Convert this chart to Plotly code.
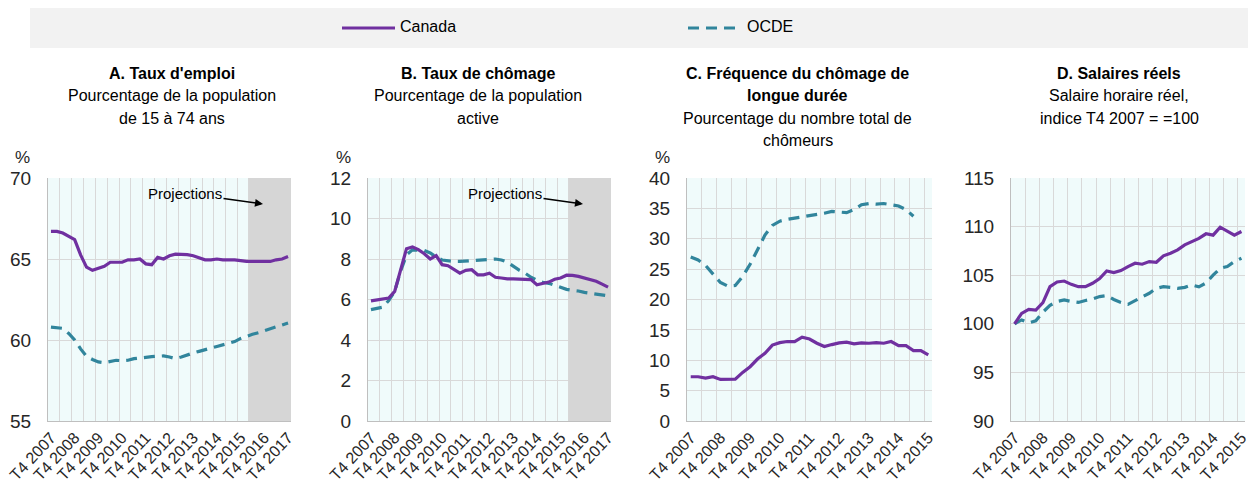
import plotly.graph_objects as go

W, H = 1248, 479

def quarters(y0, y1):
    q = ["T4 %d" % y0]
    for y in range(y0 + 1, y1 + 1):
        q += ["T%d %d" % (k, y) for k in (1, 2, 3, 4)]
    return q

# ---------------- data ----------------
quarters_A = quarters(2007, 2017)   # 41 quarters (panels A, B)
quarters_C = quarters(2007, 2015)   # 33 quarters (panels C, D)

canada_A = [66.7, 66.7, 66.6, 66.4, 66.2, 65.25, 64.5, 64.3, 64.4, 64.55,
            64.8, 64.8, 64.8, 64.95, 64.95, 65.0, 64.7, 64.65, 65.1, 65.0,
            65.2, 65.3, 65.3, 65.27, 65.2, 65.1, 64.95, 64.95, 65.0, 64.95,
            64.95, 64.95, 64.9, 64.85, 64.85, 64.85, 64.85, 64.85, 64.95, 65.0,
            65.15]
oecd_A = [60.8, 60.75, 60.72, 60.4, 60.0, 59.45, 59.0, 58.8, 58.65, 58.6,
          58.7, 58.75, 58.72, 58.75, 58.85, 58.9, 58.95, 58.97, 59.0, 59.02,
          58.95, 58.85, 58.95, 59.1, 59.2, 59.3, 59.38, 59.5, 59.6, 59.7,
          59.78, 59.9, 60.1, 60.25, 60.35, 60.45, 60.58, 60.7, 60.82, 60.94,
          61.05]

canada_B = [5.93, 5.98, 6.03, 6.07, 6.4, 7.47, 8.51, 8.6, 8.46, 8.26,
            8.0, 8.17, 7.72, 7.67, 7.5, 7.3, 7.44, 7.47, 7.22, 7.22,
            7.3, 7.1, 7.06, 7.02, 7.02, 7.0, 7.0, 6.98, 6.73, 6.81,
            6.86, 7.0, 7.06, 7.2, 7.19, 7.14, 7.06, 7.0, 6.9, 6.76,
            6.61]
oecd_B = [5.5, 5.55, 5.62, 5.95, 6.4, 7.4, 8.2, 8.45, 8.45, 8.42,
          8.3, 8.1, 7.95, 7.9, 7.88, 7.88, 7.9, 7.92, 7.95, 7.98,
          8.0, 8.0, 7.95, 7.85, 7.65, 7.45, 7.3, 7.1, 6.95, 6.85,
          6.8, 6.7, 6.6, 6.5, 6.45, 6.42, 6.35, 6.3, 6.25, 6.22,
          6.18]

canada_C = [7.28, 7.28, 7.06, 7.28, 6.84, 6.84, 6.9, 8.0, 8.94, 10.2,
            11.15, 12.5, 12.9, 13.08, 13.08, 13.8, 13.5, 12.8, 12.25, 12.58,
            12.85, 12.97, 12.7, 12.85, 12.8, 12.9, 12.8, 13.08, 12.4, 12.4,
            11.6, 11.6, 10.9]
oecd_C = [27.0, 26.5, 25.6, 24.2, 22.8, 22.2, 22.3, 23.8, 25.8, 28.2,
          30.6, 32.2, 32.9, 33.2, 33.4, 33.6, 33.7, 33.9, 34.2, 34.5,
          34.4, 34.3, 34.8, 35.6, 35.8, 35.7, 35.8, 35.6, 35.4, 34.8,
          33.7, None, None]

canada_D = [100.0, 101.07, 101.49, 101.42, 102.17, 103.82, 104.3, 104.4, 104.06, 103.82,
            103.82, 104.17, 104.65, 105.44, 105.27, 105.47, 105.89, 106.23, 106.13, 106.4,
            106.33, 106.99, 107.26, 107.61, 108.12, 108.47, 108.78, 109.26, 109.12, 109.94,
            109.5, 109.12, 109.5]
oecd_D = [100.0, 100.4, 100.1, 100.3, 101.2, 101.9, 102.3, 102.45, 102.3, 102.2,
          102.4, 102.55, 102.8, 102.9, 102.5, 102.2, 102.0, 102.4, 102.8, 103.14,
          103.65, 103.82, 103.75, 103.65, 103.75, 104.0, 103.8, 104.2, 105.0, 105.7,
          105.9, 106.4, 106.75]

titles = {
    "A": ["<b>A. Taux d'emploi</b>", "Pourcentage de la population", "de 15 à 74 ans"],
    "B": ["<b>B. Taux de chômage</b>", "Pourcentage de la population", "active"],
    "C": ["<b>C. Fréquence du chômage de</b>", "<b>longue durée</b>",
          "Pourcentage du nombre total de", "chômeurs"],
    "D": ["<b>D. Salaires réels</b>", "Salaire horaire réel,", "indice T4 2007 = =100"],
}
legend_names = ["Canada", "OCDE"]

# ---------------- style ----------------
PURPLE = "#7030A0"
TEAL = "#31859C"
GRID = "#D9D9D9"
AXIS = "#BFBFBF"
BG = "#F0FBFB"
SHADE = "#D6D6D6"
TXT = "#262626"
FONT = "Liberation Sans, Arial, sans-serif"
NARROW = "Liberation Sans Narrow, Arial Narrow, Liberation Sans"

panels = [
    dict(key="A", px=(48, 291), cats=quarters_A, can=canada_A, oecd=oecd_A,
         yr=(55, 70), dt=5, shade=33.25, pct=22, tcx=172),
    dict(key="B", px=(368, 611), cats=quarters_A, can=canada_B, oecd=oecd_B,
         yr=(0, 12), dt=2, shade=33.25, pct=343, tcx=478),
    dict(key="C", px=(687, 932), cats=quarters_C, can=canada_C, oecd=oecd_C,
         yr=(0, 40), dt=5, shade=None, pct=662, tcx=798),
    dict(key="D", px=(1011, 1245), cats=quarters_C, can=canada_D, oecd=oecd_D,
         yr=(90, 115), dt=5, shade=None, pct=None, tcx=1119),
]

PY_TOP, PY_BOT = 178, 421
ydom = [1 - PY_BOT / H, 1 - PY_TOP / H]

fig = go.Figure()
layout = dict(
    width=W, height=H, margin=dict(l=0, r=0, t=0, b=0),
    paper_bgcolor="white", plot_bgcolor=BG, showlegend=False,
    font=dict(family=FONT, color=TXT),
)
annotations = []
shapes = []

for k, p in enumerate(panels):
    n = k + 1
    xa = "x" if n == 1 else "x%d" % n
    ya = "y" if n == 1 else "y%d" % n
    idx = list(range(len(p["cats"])))
    fig.add_trace(go.Scatter(x=idx, y=p["oecd"], mode="lines", name=legend_names[1],
                             line=dict(color=TEAL, width=3.2, dash="11px,7px"),
                             xaxis=xa, yaxis=ya, connectgaps=False))
    fig.add_trace(go.Scatter(x=idx, y=p["can"], mode="lines", name=legend_names[0],
                             line=dict(color=PURPLE, width=3.2),
                             xaxis=xa, yaxis=ya))
    tv = idx[::4]
    layout["xaxis" if n == 1 else "xaxis%d" % n] = dict(
        domain=[p["px"][0] / W, p["px"][1] / W], anchor=ya,
        range=[-0.5, len(idx) - 0.5], tickmode="array", tickvals=tv,
        ticktext=[p["cats"][i] for i in tv], tickangle=-47,
        tickfont=dict(size=16, color=TXT, family=NARROW), showgrid=False, zeroline=False,
        showline=True, linecolor=AXIS, linewidth=1, ticks="", automargin=False,
        ticklabeloverflow="allow",
        minor=dict(tickmode="linear", tick0=-0.5, dtick=2, showgrid=True,
                   gridcolor=GRID, gridwidth=1, ticks=""),
    )
    layout["yaxis" if n == 1 else "yaxis%d" % n] = dict(
        domain=ydom, anchor=xa, range=list(p["yr"]), dtick=p["dt"], tick0=0,
        tickfont=dict(size=19, color=TXT), showgrid=True, gridcolor=GRID,
        gridwidth=1, zeroline=False, showline=True, linecolor=AXIS, linewidth=1,
        ticks="", ticklabelstandoff=12, automargin=False,
    )
    if p["shade"] is not None:
        shapes.append(dict(type="rect", xref=xa, yref=ya,
                           x0=p["shade"], x1=len(idx) - 0.5,
                           y0=p["yr"][0], y1=p["yr"][1],
                           fillcolor=SHADE, line=dict(width=0), layer="between"))
        span = p["yr"][1] - p["yr"][0]
        cw = (p["px"][1] - p["px"][0]) / len(idx)
        hx = 215 / cw - 0.5
        hy = p["yr"][1] - 26 * span / (PY_BOT - PY_TOP)
        annotations.append(dict(xref=xa, yref=ya, x=hx, y=hy, text="Projections",
                                showarrow=True, arrowhead=2, arrowsize=1,
                                arrowwidth=1.6, arrowcolor="black",
                                ax=-78, ay=-11, font=dict(size=15, color="black")))
    for j, line in enumerate(titles[p["key"]]):
        annotations.append(dict(xref="paper", yref="paper", x=p["tcx"] / W,
                                y=1 - (73 + 22.5 * j) / H, xanchor="center",
                                yanchor="middle", showarrow=False, text=line,
                                font=dict(size=16, color="black")))
    if p["pct"] is not None:
        annotations.append(dict(xref="paper", yref="paper", x=p["pct"] / W,
                                y=1 - 157 / H, xanchor="center", yanchor="middle",
                                showarrow=False, text="%",
                                font=dict(size=17, color=TXT)))

# legend band
shapes.append(dict(type="rect", xref="paper", yref="paper", x0=30 / W, x1=1.0,
                   y0=1 - 48 / H, y1=1 - 8 / H, fillcolor="#F2F2F2",
                   line=dict(width=0), layer="below"))
shapes.append(dict(type="line", xref="paper", yref="paper", x0=342 / W, x1=395 / W,
                   y0=1 - 28 / H, y1=1 - 28 / H, line=dict(color=PURPLE, width=3.2)))
shapes.append(dict(type="line", xref="paper", yref="paper", x0=688 / W, x1=742 / W,
                   y0=1 - 28 / H, y1=1 - 28 / H,
                   line=dict(color=TEAL, width=3.2, dash="11px,7px")))
annotations.append(dict(xref="paper", yref="paper", x=398 / W, y=1 - 27 / H,
                        xanchor="left", yanchor="middle", showarrow=False,
                        text=legend_names[0], font=dict(size=16, color="black", family=NARROW)))
annotations.append(dict(xref="paper", yref="paper", x=745 / W, y=1 - 27 / H,
                        xanchor="left", yanchor="middle", showarrow=False,
                        text=legend_names[1], font=dict(size=16, color="black", family=NARROW)))

layout["annotations"] = annotations
layout["shapes"] = shapes
fig.update_layout(**layout)
fig.write_html("out.html", config={"displayModeBar": False},
               post_script="document.body.style.margin='0';document.body.style.overflow='hidden';")
